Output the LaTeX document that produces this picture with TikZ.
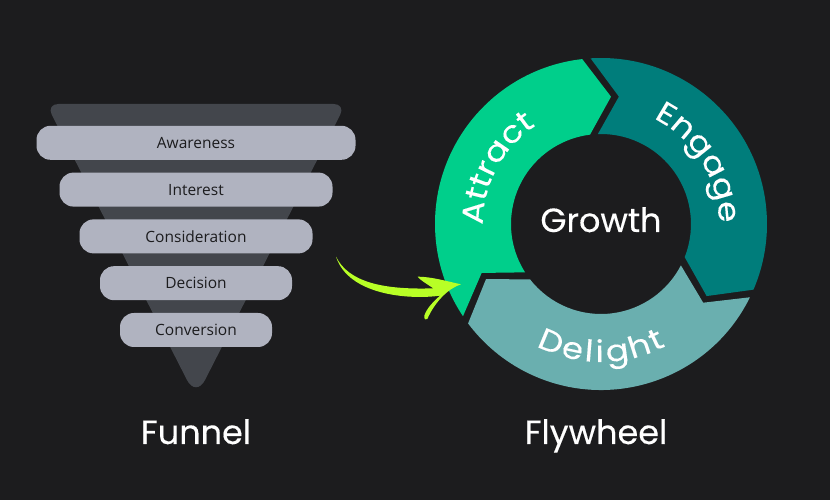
\documentclass[tikz,border=0pt]{standalone}
\usepackage{fontspec}
\setmainfont{Open Sans}
\newfontfamily\flyfont[FakeBold=0.3]{Poppins}
\newfontfamily\bendfont[FakeBold=0.2,FakeStretch=1.14]{Poppins}
\usetikzlibrary{positioning,decorations.text}
\definecolor{bgdark}{HTML}{1C1C1E}
\definecolor{funnelgrey}{HTML}{43464C}
\definecolor{bargrey}{HTML}{B0B3C0}
\definecolor{attractgreen}{HTML}{00CF8B}
\definecolor{engageteal}{HTML}{007D7B}
\definecolor{delightteal}{HTML}{6AAFAF}
\definecolor{arrowlime}{HTML}{B8FF26}

\begin{document}
\begin{tikzpicture}[x=1pt,y=1pt,
            stage/.style={fill=bargrey,rounded corners=14pt,minimum height=34pt,inner sep=0pt,outer sep=0pt,
              text=bgdark,font=\fontsize{15.5}{18}\selectfont},
            biglabel/.style={text=white,inner sep=0pt,anchor=base,font=\flyfont\fontsize{33.5}{38}\selectfont},
            bendlabel/.style={decorate,decoration={text along path,text align=center,
              text={|\bendfont\fontsize{30}{34}\selectfont\color{white}|#1}}}]
            \fill[bgdark] (0,0) rectangle (830,500);
            \useasboundingbox (0,0) rectangle (830,500);
            % funnel
            \fill[funnelgrey] (196,396) [rounded corners=12pt] -- (345.7,396) [rounded corners=20pt] -- (196,102.3)
              [rounded corners=12pt] -- (46.3,396) [sharp corners] -- cycle;
            \node[stage,minimum width=319pt] (awareness) at (196,357.2) {Awareness};
            \node[stage,minimum width=273pt,below=12.8pt of awareness] (interest) {Interest};
            \node[stage,minimum width=233pt,below=12.8pt of interest] (consideration) {Consideration};
            \node[stage,minimum width=192pt,below=12.8pt of consideration] (decision) {Decision};
            \node[stage,minimum width=152pt,below=12.8pt of decision] (conversion) {Conversion};
            \node[biglabel] (funnel) at (196,56) {Funnel};
            % flywheel
            \begin{scope}[shift={(601,276)}]
              \fill[attractgreen] (96.5:166) arc[start angle=96.5,end angle=213.75,radius=166]
                -- (202.3:129) -- (212.5:90) arc[start angle=212.5,end angle=97,radius=90]
                -- (85.5:127.7) -- cycle;
              \fill[engageteal] (93.6:166) arc[start angle=93.6,end angle=-23.3,radius=166]
                -- (-34.3:127.9) -- (-21.6:90) arc[start angle=-21.6,end angle=92,radius=90]
                -- (82:128.6) -- cycle;
              \fill[delightteal] (-26.2:166) arc[start angle=-26.2,end angle=-143.2,radius=166]
                -- (205.6:127.5) -- (218:90) arc[start angle=-142,end angle=-27.4,radius=90]
                -- (-37.6:129) -- cycle;
              \path[bendlabel=Attract] (207:118) arc[start angle=207,end angle=97,radius=118];
              \path[bendlabel=Engage] (88:118) arc[start angle=88,end angle=-24,radius=118];
              \path[bendlabel={{D\kern2pt}{e\kern3pt}{l\kern3pt}{i\kern3pt}{g\kern2pt}{h\kern2pt}t}]
                (225:138) arc[start angle=225,end angle=315,radius=138];
            \end{scope}
            \node[biglabel] (growth) at (601,268) {Growth};
            \node[biglabel] (flywheel) at (596,56) {Flywheel};
            % arrow
            \begin{scope}[shift={(325,255)},x=0.3333pt,y=-0.3333pt]
              \fill[arrowlime] (33,35) .. controls (70,110) and (170,135) .. (325,130)
                .. controls (310,120) and (285,105) .. (278,95)
                .. controls (320,95) and (370,110) .. (408,118)
                .. controls (370,130) and (330,170) .. (307,222)
                .. controls (303,228) and (296,222) .. (298,212)
                .. controls (305,190) and (325,170) .. (345,152)
                .. controls (250,165) and (70,150) .. (33,35) -- cycle;
            \end{scope}
          \end{tikzpicture}
\end{document}
